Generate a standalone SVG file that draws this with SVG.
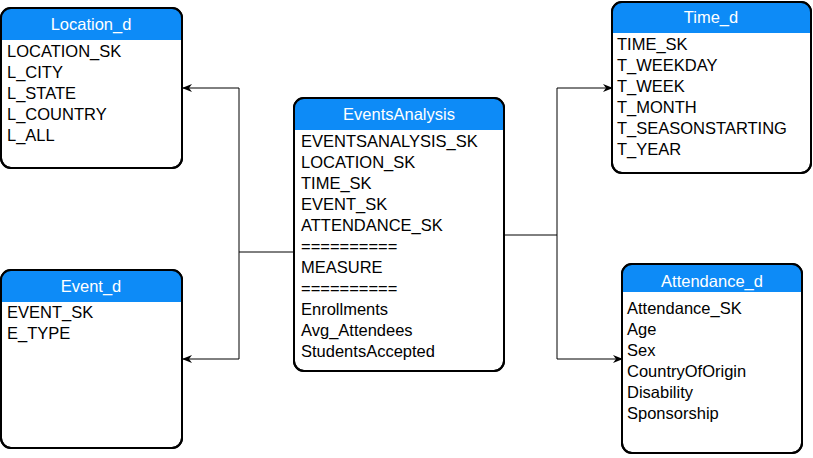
<svg xmlns="http://www.w3.org/2000/svg" width="813" height="458" viewBox="0 0 813 458">
<style>
.box{fill:#ffffff;stroke:#000000;stroke-width:2}
.hdr{fill:#0d8bf7}
.title{font-family:"Liberation Sans",Arial,sans-serif;font-size:16.5px;fill:#ffffff;text-anchor:middle}
.row{font-family:"Liberation Sans",Arial,sans-serif;font-size:16.5px;fill:#000000}
.edge{fill:none;stroke:#000000;stroke-width:1}
</style>
<defs>
<marker id="arr" viewBox="0 0 10 10" refX="9" refY="5" markerWidth="10" markerHeight="10" markerUnits="userSpaceOnUse" orient="auto">
<path d="M0,1 L10,5 L0,9 L3,5 Z" fill="#000"/>
</marker>
<clipPath id="cLoc"><rect x="1" y="8" width="181" height="160" rx="10"/></clipPath>
<clipPath id="cEvt"><rect x="1" y="270" width="181" height="178" rx="10"/></clipPath>
<clipPath id="cEA"><rect x="294" y="98" width="210" height="273" rx="10"/></clipPath>
<clipPath id="cTime"><rect x="612" y="2" width="199" height="171" rx="10"/></clipPath>
<clipPath id="cAtt"><rect x="622" y="264" width="180" height="189" rx="10"/></clipPath>
</defs>
<rect width="813" height="458" fill="#ffffff"/>
<g id="connectors">
<path class="edge" d="M294,252 H239 V88 H183" marker-end="url(#arr)"/>
<path class="edge" d="M239,252 V359 H183" marker-end="url(#arr)"/>
<path class="edge" d="M504,235 H557 V88 H612" marker-end="url(#arr)"/>
<path class="edge" d="M557,235 V359 H622" marker-end="url(#arr)"/>
</g>
<g id="Location_d">
<rect class="box" x="1" y="8" width="181" height="160" rx="10"/>
<rect class="hdr" x="1" y="8" width="181" height="32" clip-path="url(#cLoc)"/>
<rect x="1" y="8" width="181" height="160" rx="10" fill="none" stroke="#000" stroke-width="2"/>
<text class="title" x="91" y="30">Location_d</text>
<text class="row" x="7" y="57">LOCATION_SK</text>
<text class="row" x="7" y="78">L_CITY</text>
<text class="row" x="7" y="99">L_STATE</text>
<text class="row" x="7" y="120">L_COUNTRY</text>
<text class="row" x="7" y="141">L_ALL</text>
</g>
<g id="Event_d">
<rect class="box" x="1" y="270" width="181" height="178" rx="10"/>
<rect class="hdr" x="1" y="270" width="181" height="32" clip-path="url(#cEvt)"/>
<rect x="1" y="270" width="181" height="178" rx="10" fill="none" stroke="#000" stroke-width="2"/>
<text class="title" x="91" y="292">Event_d</text>
<text class="row" x="7" y="318">EVENT_SK</text>
<text class="row" x="7" y="339">E_TYPE</text>
</g>
<g id="EventsAnalysis">
<rect class="box" x="294" y="98" width="210" height="273" rx="10"/>
<rect class="hdr" x="294" y="98" width="210" height="32" clip-path="url(#cEA)"/>
<rect x="294" y="98" width="210" height="273" rx="10" fill="none" stroke="#000" stroke-width="2"/>
<text class="title" x="399" y="120">EventsAnalysis</text>
<text class="row" x="301" y="147">EVENTSANALYSIS_SK</text>
<text class="row" x="301" y="168">LOCATION_SK</text>
<text class="row" x="301" y="189">TIME_SK</text>
<text class="row" x="301" y="210">EVENT_SK</text>
<text class="row" x="301" y="231">ATTENDANCE_SK</text>
<text class="row" x="301" y="252">==========</text>
<text class="row" x="301" y="273">MEASURE</text>
<text class="row" x="301" y="294">==========</text>
<text class="row" x="301" y="315">Enrollments</text>
<text class="row" x="301" y="336">Avg_Attendees</text>
<text class="row" x="301" y="357">StudentsAccepted</text>
</g>
<g id="Time_d">
<rect class="box" x="612" y="2" width="199" height="171" rx="10"/>
<rect class="hdr" x="612" y="2" width="199" height="31" clip-path="url(#cTime)"/>
<rect x="612" y="2" width="199" height="171" rx="10" fill="none" stroke="#000" stroke-width="2"/>
<text class="title" x="711" y="23">Time_d</text>
<text class="row" x="617" y="50">TIME_SK</text>
<text class="row" x="617" y="71">T_WEEKDAY</text>
<text class="row" x="617" y="92">T_WEEK</text>
<text class="row" x="617" y="113">T_MONTH</text>
<text class="row" x="617" y="134">T_SEASONSTARTING</text>
<text class="row" x="617" y="155">T_YEAR</text>
</g>
<g id="Attendance_d">
<rect class="box" x="622" y="264" width="180" height="189" rx="10"/>
<rect class="hdr" x="622" y="264" width="180" height="28" clip-path="url(#cAtt)"/>
<rect x="622" y="264" width="180" height="189" rx="10" fill="none" stroke="#000" stroke-width="2"/>
<text class="title" x="712" y="287">Attendance_d</text>
<text class="row" x="627" y="314">Attendance_SK</text>
<text class="row" x="627" y="335">Age</text>
<text class="row" x="627" y="356">Sex</text>
<text class="row" x="627" y="377">CountryOfOrigin</text>
<text class="row" x="627" y="398">Disability</text>
<text class="row" x="627" y="419">Sponsorship</text>
</g>
</svg>
